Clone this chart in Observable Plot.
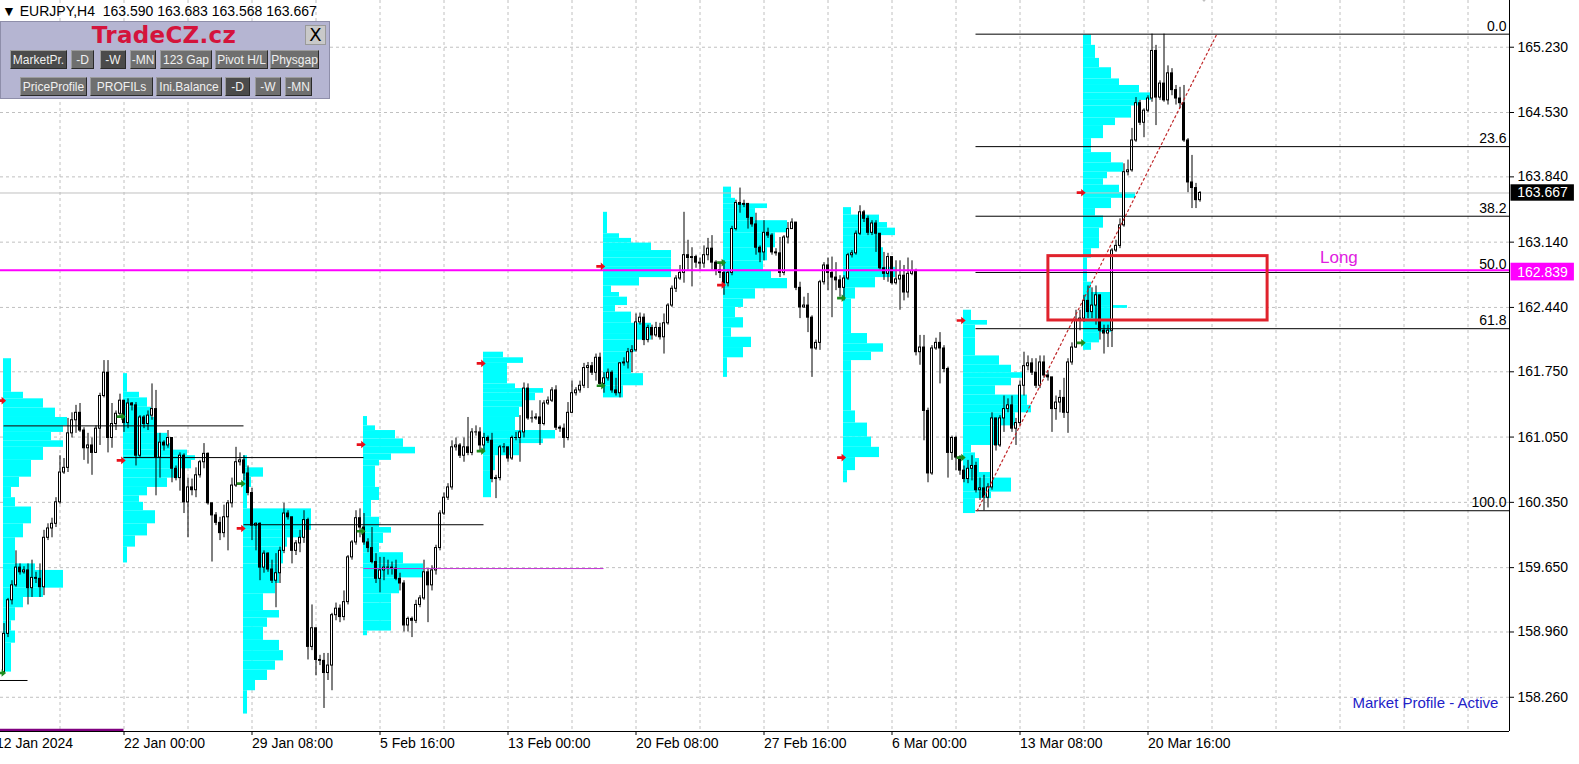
<!DOCTYPE html>
<html><head><meta charset="utf-8">
<script src="https://cdn.jsdelivr.net/npm/d3@7"></script>
<script src="https://cdn.jsdelivr.net/npm/@observablehq/plot@0.6"></script>
<style>
body{margin:0;background:#fff;}
#wrap{position:relative;width:1579px;height:764px;overflow:hidden;font-family:"Liberation Sans",Arial,sans-serif;}
#hdr{position:absolute;left:2px;top:3px;font-size:14px;white-space:pre;color:#000;}
#panel{position:absolute;left:0;top:21px;width:330px;height:78px;background:#b5b5d2;border:1px solid #8e8eaa;box-sizing:border-box;}
#brand{position:absolute;left:0;width:326px;top:0px;text-align:center;font:bold 23px "DejaVu Sans",sans-serif;color:#d4143c;letter-spacing:0.3px;}
#xbox{position:absolute;left:304px;top:3px;width:19px;height:18px;background:#c9c9c9;border:1px solid #9a9a9a;font:18px "DejaVu Sans",sans-serif;line-height:18px;text-align:center;color:#000;}
.btn{position:absolute;height:19px;line-height:18px;background:#6f6f6f;color:#f0f0f0;font-size:12px;text-align:center;box-sizing:border-box;border-top:1px solid #9c9c9c;border-left:1px solid #9c9c9c;border-right:1px solid #2a2a2a;border-bottom:1px solid #2a2a2a;white-space:nowrap;overflow:visible;}
.btn.sel{background:#4b4b4b;}
</style>
</head><body>
<div id="wrap">
  <div id="chart"></div>
  <div id="hdr"></div>
  <div id="panel"><div id="brand"></div><div id="xbox">X</div></div>
</div>
<script>
// ---------- data ----------
const symbolName = "EURJPY,H4";
const firstOpen = 158.53;
const close = [
158.94,159.30,159.46,159.65,159.60,159.62,159.43,159.54,159.53,159.44,
159.97,160.07,160.12,160.35,160.67,160.72,161.09,161.23,161.31,161.12,
160.93,160.96,160.88,161.14,161.49,161.74,161.04,161.19,161.30,161.44,
161.20,161.41,161.39,160.85,161.26,161.19,161.28,161.35,160.83,160.99,
160.96,161.04,160.71,160.61,160.85,160.35,160.51,160.48,160.64,160.78,
160.87,160.34,160.21,160.13,160.02,160.19,160.34,160.53,160.78,160.80,
160.66,160.45,160.10,160.12,159.65,159.80,159.63,159.51,159.59,159.83,
160.23,160.19,159.83,159.91,159.97,160.16,158.80,159.00,158.66,158.65,
158.52,158.60,159.14,159.21,159.12,159.28,159.76,159.92,160.18,160.08,
159.92,159.86,159.71,159.53,159.62,159.65,159.65,159.64,159.53,159.48,
159.03,159.10,159.08,159.25,159.32,159.60,159.46,159.62,159.86,160.23,
160.40,160.51,160.94,160.96,160.85,160.94,160.88,161.10,161.10,160.96,
161.04,161.01,160.60,160.61,160.94,160.94,160.82,161.04,161.04,161.10,
161.57,161.25,161.25,161.26,161.19,161.41,161.44,161.55,161.15,161.14,
161.04,161.31,161.52,161.55,161.60,161.79,161.81,161.74,161.90,161.62,
161.68,161.74,161.55,161.52,161.84,161.85,161.96,161.98,162.28,162.33,
162.09,162.22,162.14,162.22,162.12,162.27,162.46,162.64,162.75,162.81,
163.00,162.97,162.98,162.92,162.91,163.00,163.07,162.92,162.84,162.81,
162.70,162.81,163.28,163.56,163.54,163.55,163.40,163.33,163.08,163.03,
163.24,163.21,163.03,163.02,162.81,163.19,163.28,163.35,162.65,162.44,
162.46,162.33,162.00,162.06,162.71,162.89,162.81,162.76,162.73,162.65,
162.75,163.00,163.02,163.23,163.46,163.39,163.24,163.34,163.23,162.86,
162.80,162.98,162.70,162.74,162.78,162.60,162.80,162.83,161.96,162.01,
161.33,160.66,162.00,162.06,162.00,161.78,160.88,161.04,160.83,160.69,
160.60,160.71,160.74,160.48,160.50,160.40,160.51,161.25,160.96,161.25,
161.35,161.39,161.14,161.20,161.60,161.81,161.84,161.74,161.60,161.85,
161.71,161.69,161.35,161.42,161.47,161.31,161.85,162.01,162.30,162.32,
162.51,162.39,162.46,162.57,162.19,162.16,162.19,163.05,163.10,163.32,
163.89,163.91,164.23,164.63,164.42,164.55,164.68,165.19,164.69,164.84,
164.66,164.95,164.77,164.68,164.63,164.23,163.78,163.72,163.590,163.667];
const high = [
159.05,159.32,159.51,159.83,159.69,159.66,159.69,159.73,159.60,159.69,
160.05,160.12,160.18,160.40,160.85,160.82,161.25,161.31,161.39,161.41,
161.15,161.09,161.04,161.17,161.52,161.87,161.87,161.41,161.33,161.51,
161.35,161.46,161.42,161.42,161.28,161.28,161.33,161.62,161.55,161.09,
161.01,161.12,160.94,160.74,160.88,160.87,160.61,160.60,160.72,160.80,
160.98,160.88,160.34,160.24,160.19,160.32,160.37,160.61,160.94,160.88,
160.85,160.74,160.50,160.13,160.13,159.83,159.81,159.73,159.80,159.87,
160.34,160.26,160.16,159.94,160.05,160.26,160.18,159.25,158.96,158.71,
158.73,158.73,159.16,159.27,159.25,159.40,159.78,159.94,160.26,160.28,
160.23,159.96,160.08,159.80,159.76,159.76,159.73,159.71,159.73,159.59,
159.51,159.12,159.12,159.30,159.35,159.73,159.64,159.67,159.89,160.26,
160.45,160.55,161.01,161.04,160.98,161.04,161.26,161.14,161.17,161.15,
161.09,161.06,161.09,160.64,160.96,160.98,160.91,161.06,161.10,161.28,
161.63,161.62,161.33,161.30,161.44,161.44,161.48,161.58,161.60,161.17,
161.19,161.42,161.65,161.58,161.65,161.84,161.85,161.85,161.94,161.95,
161.74,161.78,161.76,161.68,161.85,161.90,162.00,162.03,162.37,162.38,
162.37,162.25,162.25,162.28,162.27,162.37,162.48,162.67,162.78,162.89,
163.46,163.16,163.08,163.00,162.97,163.10,163.18,163.21,162.94,162.92,
162.94,162.84,163.31,163.59,163.72,163.59,163.53,163.39,163.45,163.10,
163.37,163.29,163.23,163.07,163.19,163.21,163.35,163.39,163.32,162.71,
162.55,162.59,162.35,162.09,162.73,162.92,162.97,162.98,162.92,162.78,
162.78,163.02,163.05,163.26,163.53,163.48,163.42,163.37,163.37,163.23,
163.03,163.02,162.94,162.94,162.94,162.89,162.97,162.94,162.85,162.14,
162.14,161.36,162.03,162.11,162.17,162.03,161.80,161.06,161.06,160.85,
160.74,160.80,160.85,160.78,160.61,160.64,160.55,161.31,161.25,161.28,
161.49,161.46,161.49,161.25,161.65,161.96,161.92,161.89,161.89,161.92,
161.92,161.76,161.63,161.49,161.55,161.68,161.89,162.06,162.41,162.41,
162.57,162.67,162.65,162.67,162.57,162.25,162.25,163.07,163.16,163.39,
163.98,164.02,164.36,164.69,164.66,164.57,164.71,165.37,165.25,164.87,
165.37,165.03,165.00,164.82,164.80,164.82,164.25,164.07,163.77,163.683];
const low = [
158.52,158.90,159.25,159.44,159.57,159.58,159.25,159.33,159.48,159.33,
159.35,159.94,159.97,160.08,160.33,160.65,160.67,161.04,161.09,161.10,
160.80,160.76,160.64,160.90,160.96,161.47,160.88,160.93,161.12,161.26,
161.10,161.14,161.33,160.74,160.83,161.14,161.12,161.23,160.42,160.61,
160.90,160.93,160.56,160.58,160.47,160.23,159.97,160.42,160.40,160.61,
160.71,160.32,159.71,160.10,159.94,159.97,159.83,160.29,160.51,160.74,
160.58,160.42,159.94,159.83,159.51,159.59,159.60,159.48,159.22,159.48,
159.80,160.16,159.69,159.78,159.81,159.91,158.66,158.76,158.49,158.60,
158.14,158.44,158.33,159.08,159.06,159.08,159.25,159.73,159.89,159.97,
159.89,159.81,159.69,159.48,159.38,159.51,159.57,159.57,159.51,159.40,
158.96,158.96,158.90,159.05,159.22,159.30,159.06,159.40,159.57,159.83,
160.21,160.37,160.48,160.90,160.82,160.78,160.85,160.85,161.06,160.90,
160.90,160.98,160.56,160.39,160.58,160.88,160.78,160.80,161.01,160.78,
161.04,161.23,161.20,161.23,160.96,161.17,161.39,161.42,161.12,161.10,
160.93,161.01,161.30,161.49,161.52,161.57,161.57,161.71,161.65,161.60,
161.52,161.65,161.52,161.49,161.47,161.81,161.78,161.74,161.96,162.25,
162.03,162.06,162.09,162.12,162.09,161.94,162.25,162.44,162.60,162.73,
162.70,162.84,162.66,162.86,162.84,162.86,162.94,162.84,162.78,162.75,
162.57,162.66,162.78,163.26,163.45,163.51,163.28,163.30,163.00,162.92,
162.94,163.18,163.00,162.99,162.76,162.78,163.12,163.32,162.62,162.32,
162.43,162.17,161.69,161.98,161.98,162.68,162.62,162.33,162.62,162.55,
162.51,162.73,162.97,163.00,163.21,163.35,163.21,163.21,163.03,162.84,
162.73,162.71,162.68,162.68,162.41,162.51,162.54,162.78,161.92,161.82,
161.01,160.56,160.64,161.98,161.62,161.74,160.61,160.80,160.69,160.64,
160.56,160.55,160.58,160.45,160.37,160.26,160.29,160.48,160.90,160.94,
161.10,161.31,161.10,160.96,161.17,161.49,161.76,161.71,161.57,161.57,
161.68,161.65,161.10,161.23,161.31,161.25,161.09,161.82,162.00,162.19,
162.28,162.32,162.32,162.25,162.09,161.94,162.01,162.01,163.03,163.07,
163.30,163.85,163.89,164.21,164.39,164.26,164.53,164.64,164.39,164.66,
164.64,164.61,164.71,164.61,164.57,164.21,163.67,163.50,163.50,163.568];

// weekly market profiles: [level price, TPO count] ... last entry = bottom price
const profileStarts = [0, 30, 60, 90, 120, 150, 180, 210, 240, 270];
const profileA = [[161.89,2],[161.53,5],[161.46,10],[161.36,13],[161.26,16],[161.17,15],[161.10,12],[161.01,15],[160.94,10],[160.80,7],[160.62,4],[160.51,2],[160.40,3],[160.30,7],[160.12,5],[159.97,3],[159.69,8],[159.62,15],[159.43,10],[159.33,5],[159.22,3],[159.08,2],[158.97,3],[158.84,2],[158.53,0]];
const profileB = [[161.73,1],[161.53,4],[161.47,6],[161.37,7],[161.26,8],[161.09,11],[160.98,12],[160.91,16],[160.85,18],[160.80,17],[160.71,14],[160.61,11],[160.51,6],[160.42,4],[160.35,5],[160.26,8],[160.12,6],[159.99,3],[159.87,1],[159.70,0]];
const profileC = [[160.85,1],[160.72,5],[160.62,2],[160.51,1],[160.28,17],[160.05,15],[159.97,11],[159.87,10],[159.69,9],[159.48,8],[159.37,5],[159.19,9],[159.11,6],[159.01,5],[158.87,9],[158.76,10],[158.65,8],[158.55,6],[158.44,3],[158.33,1],[158.08,0]];
const profileD = [[161.27,1],[161.17,3],[161.12,8],[161.03,10],[160.94,13],[160.87,7],[160.80,4],[160.74,3],[160.51,4],[160.37,2],[160.19,4],[160.08,7],[160.02,5],[159.91,4],[159.81,10],[159.69,15],[159.54,9],[159.48,9],[159.37,7],[159.27,7],[159.08,7],[158.97,1],[158.92,0]];
const profileE = [[161.96,5],[161.90,10],[161.84,6],[161.62,8],[161.57,15],[161.52,13],[161.44,10],[161.37,9],[161.26,8],[161.12,18],[161.03,15],[160.98,9],[160.85,3],[160.69,2],[160.40,0]];
const profileF = [[163.46,1],[163.23,4],[163.18,7],[163.13,12],[163.05,17],[162.97,17],[162.87,17],[162.76,9],[162.67,2],[162.60,4],[162.55,6],[162.46,3],[162.39,7],[162.27,12],[162.16,12],[162.09,8],[161.96,7],[161.84,7],[161.73,10],[161.60,5],[161.47,0]];
const profileG = [[163.73,2],[163.61,3],[163.55,11],[163.50,8],[163.37,16],[163.24,13],[163.08,11],[162.94,10],[162.83,12],[162.75,16],[162.64,8],[162.53,5],[162.44,3],[162.33,5],[162.22,2],[162.12,7],[162.01,5],[161.90,1],[161.69,0]];
const profileH = [[163.51,2],[163.43,9],[163.35,11],[163.29,13],[163.21,9],[163.08,10],[162.87,13],[162.76,8],[162.65,3],[162.53,2],[162.16,6],[162.05,10],[161.96,7],[161.87,2],[161.76,2],[161.33,3],[161.20,6],[161.05,7],[160.94,9],[160.83,3],[160.69,1],[160.56,0]];
const profileI = [[162.41,2],[162.30,6],[162.25,3],[162.11,3],[161.92,9],[161.82,12],[161.74,15],[161.68,12],[161.60,8],[161.50,16],[161.39,17],[161.31,13],[161.17,9],[160.96,2],[160.88,3],[160.82,4],[160.67,7],[160.61,12],[160.46,7],[160.39,3],[160.23,0]];
const profileJ = [[165.36,2],[165.25,3],[165.11,4],[165.01,7],[164.89,9],[164.82,14],[164.74,17],[164.66,14],[164.60,12],[164.47,8],[164.39,5],[164.25,2],[164.14,2],[164.10,7],[163.99,10],[163.89,6],[163.82,5],[163.75,9],[163.67,13],[163.61,7],[163.50,3],[163.42,5],[163.29,4],[163.18,4],[163.07,2],[162.97,1],[162.71,2],[162.60,7],[162.46,11],[162.43,7],[162.32,7],[162.17,4],[162.06,2],[161.98,0]];

// point-of-control lines
const pocPrice = [158.44, 161.17, 160.83, 160.11];
const pocFrom  = [-1, 0, 30, 60];
const pocTo    = [6, 60, 90, 120];
const nakedPocPrice = 159.64, nakedPocFrom = 90, nakedPocTo = 150;
const oldPocPrice = 157.91, oldPocFrom = -1, oldPocTo = 30;

// week open / close markers [bar, price]
const markerRed   = [[-0.6,161.44],[29.3,160.80],[59.3,160.07],[89.3,160.97],[119.3,161.84],[149.2,162.88],[179.4,162.68],[209.4,160.83],[239.3,162.30],[269.3,163.67]];
const markerGreen = [[-0.6,158.52],[29.3,161.27],[59.3,160.55],[89.3,160.04],[119.3,160.90],[149.3,161.60],[179.4,162.92],[209.4,162.54],[239.3,160.83],[269.3,162.06]];

// Fibonacci retracement
const fibHigh = 165.37, fibLow = 160.26, fibStartBar = 243, fibEndBar = 303.2;
const fibRatios = [0, 23.6, 38.2, 50, 61.8, 100];

// levels
const longLevel = 162.839;
const bidPrice = 163.667;
const zoneTop = 162.99, zoneBottom = 162.30, zoneFrom = 261.1, zoneTo = 315.9;

// axes
const priceTicks = [165.230,164.530,163.840,163.140,162.440,161.750,161.050,160.350,159.650,158.960,158.260];
const dateTickBars = [-2, 30, 62, 94, 126, 158, 190, 222, 254, 286];
const dateLabels = ["12 Jan 2024","22 Jan 00:00","29 Jan 08:00","5 Feb 16:00","13 Feb 00:00","20 Feb 08:00","27 Feb 16:00","6 Mar 00:00","13 Mar 08:00","20 Mar 16:00"];

// panel
const brandText = "TradeCZ.cz";
const panelRow1 = ["MarketPr.","-D","-W","-MN","123 Gap","Pivot H/L","Physgap"];
const panelRow2 = ["PriceProfile","PROFILs","Ini.Balance","-D","-W","-MN"];

// ---------- build ----------
const candles = close.map((c, i) => {
  const o = i ? close[i - 1] : firstOpen;
  return {i, open: o, close: c, high: Math.max(high[i], o, c), low: Math.min(low[i], o, c)};
});
const bull = candles.filter(d => d.close > d.open);

const profileSets = [profileA, profileB, profileC, profileD, profileE, profileF, profileG, profileH, profileI, profileJ];
const profileRects = profileSets.flatMap((rows, p) =>
  rows.slice(0, -1).map((r, k) => ({start: profileStarts[p], hi: r[0], lo: rows[k + 1][0], count: r[1]})));

const pocLines = pocPrice.map((p, k) => ({price: p, from: pocFrom[k], to: pocTo[k]}));
const fibLevels = fibRatios.map(r => ({label: r.toFixed(1), price: fibHigh - (fibHigh - fibLow) * r / 100}));
const labelByBar = new Map(dateTickBars.map((b, k) => [b, dateLabels[k]]));
const gridBars = d3.range(-2, 377, 16);

const xMin = -0.875, xMax = 376.375, yMin = 157.893, yMax = 165.731;

const arrowSymbol = {draw(ctx, size) {
  const r = Math.sqrt(size / Math.PI);
  ctx.moveTo(-r, -r * 0.3); ctx.lineTo(0, -r * 0.3); ctx.lineTo(0, -r * 0.85);
  ctx.lineTo(r, 0); ctx.lineTo(0, r * 0.85); ctx.lineTo(0, r * 0.3); ctx.lineTo(-r, r * 0.3); ctx.closePath();
}};
const downTri = {draw(ctx, size) {
  const r = Math.sqrt(size / Math.PI);
  ctx.moveTo(-r, -r); ctx.lineTo(r, -r); ctx.lineTo(0, r * 0.2); ctx.closePath();
}};

const F = '"Liberation Sans", Arial, sans-serif';

const chart = Plot.plot({
  width: 1579, height: 764,
  marginLeft: 0, marginRight: 70, marginTop: 0, marginBottom: 33,
  style: {fontFamily: F, fontSize: "14px", background: "white", color: "black"},
  x: {domain: [xMin, xMax]},
  y: {domain: [yMin, yMax]},
  marks: [
    Plot.gridY(priceTicks, {stroke: "#c0c0c0", strokeOpacity: 1, strokeDasharray: "3,3"}),
    Plot.gridX(gridBars, {stroke: "#c0c0c0", strokeOpacity: 1, strokeDasharray: "3,3"}),
    // market profiles
    Plot.rect(profileRects, {x1: d => d.start - 0.125, x2: d => d.start - 0.125 + d.count, y1: "lo", y2: "hi", fill: "#00ffff"}),
    // bid line
    Plot.ruleY([bidPrice], {stroke: "#c0c0c0", x1: xMin, x2: xMax}),
    // candles
    Plot.ruleX(candles, {x: "i", y1: "low", y2: "high", stroke: "black", strokeWidth: 1}),
    Plot.rect(candles, {x1: d => d.i - 0.375, x2: d => d.i + 0.375, y1: "open", y2: "close", fill: "black", insetTop: -0.5, insetBottom: -0.5}),
    Plot.rect(bull, {x1: d => d.i - 0.375, x2: d => d.i + 0.375, y1: "open", y2: "close", fill: "white", insetLeft: 1, insetRight: 1, insetTop: 0.5, insetBottom: 0.5}),
    // POC lines
    Plot.ruleY(pocLines, {y: "price", x1: "from", x2: "to", stroke: "black"}),
    Plot.ruleY([nakedPocPrice], {x1: nakedPocFrom, x2: nakedPocTo, stroke: "#c030d0"}),
    Plot.ruleY([oldPocPrice], {x1: oldPocFrom, x2: oldPocTo, stroke: "#800080", strokeWidth: 2.5}),
    // fibonacci
    Plot.ruleY(fibLevels, {y: "price", x1: fibStartBar, x2: xMax, stroke: "black"}),
    Plot.line([[fibStartBar + 0.3, fibLow], [fibEndBar, fibHigh]], {x: d => d[0], y: d => d[1], stroke: "#c0282a", strokeDasharray: "2,3", strokeWidth: 1.2}),
    Plot.text(fibLevels, {x: xMax, y: "price", text: "label", textAnchor: "end", dx: -3, dy: -8, fontSize: 14, fill: "black"}),
    // long level
    Plot.ruleY([longLevel], {x1: xMin, x2: xMax, stroke: "#ff00ff", strokeWidth: 2}),
    Plot.rect([{x1: zoneFrom, x2: zoneTo, y1: zoneBottom, y2: zoneTop}], {x1: "x1", x2: "x2", y1: "y1", y2: "y2", fill: "none", stroke: "#e0222c", strokeWidth: 3}),
    Plot.text(["Long"], {x: 329, y: 162.98, text: d => d, fill: "#e020e0", fontSize: 17, textAnchor: "start"}),
    // markers
    Plot.dot(markerRed, {x: d => d[0], y: d => d[1], symbol: arrowSymbol, r: 4.5, fill: "#e8101a", stroke: "none"}),
    Plot.dot(markerGreen, {x: d => d[0], y: d => d[1], symbol: arrowSymbol, r: 4.5, fill: "#1e8c1e", stroke: "none"}),
    // chart shift marker
    Plot.dot([0], {x: 300, y: yMax, symbol: downTri, r: 8, fill: "#c0c0c0", stroke: "none"}),
    // axes
    Plot.ruleX([xMax], {stroke: "black"}),
    Plot.ruleY([yMin], {x1: xMin, x2: xMax, stroke: "black"}),
    Plot.axisY(priceTicks, {anchor: "right", tickSize: 4, tickPadding: 4, tickFormat: d => d.toFixed(3), label: null, fontSize: 14}),
    Plot.axisX(dateTickBars, {anchor: "bottom", tickSize: 4, tickPadding: 3, tickFormat: d => labelByBar.get(d), textAnchor: "start", label: null, fontSize: 14}),
    // price tags on the axis
    Plot.rect([bidPrice], {x1: 376.75, x2: 392.6, y1: d => d - 0.088, y2: d => d + 0.088, fill: "black"}),
    Plot.text([bidPrice], {x: 378.3, y: d => d, text: d => d.toFixed(3), fill: "white", textAnchor: "start", fontSize: 14}),
    Plot.rect([longLevel], {x1: 376.75, x2: 392.6, y1: d => d - 0.115, y2: d => d + 0.075, fill: "#ff00ff"}),
    Plot.text([longLevel], {x: 378.3, y: d => d - 0.02, text: d => d.toFixed(3), fill: "white", textAnchor: "start", fontSize: 14}),
    // status
    Plot.text(["Market Profile - Active"], {x: 373.6, y: 158.20, text: d => d, fill: "#2222c8", fontSize: 15, textAnchor: "end"})
  ]
});
document.getElementById("chart").appendChild(chart);

// header
const last = candles[candles.length - 1];
document.getElementById("hdr").textContent =
  "\u25BC " + symbolName + "  " + [last.open, last.high, last.low, last.close].map(v => v.toFixed(3)).join(" ");

// panel
document.getElementById("brand").textContent = brandText;
const panel = document.getElementById("panel");
const row1Layout = [[9, 57, true], [70, 23, false], [99, 26, true], [129, 26, false], [159, 52, false], [214, 53, false], [269, 49, false]];
const row2Layout = [[19, 67, false], [89, 63, false], [155, 66, false], [224, 25, true], [254, 26, false], [284, 27, false]];
function addButtons(labels, layout, top) {
  labels.forEach((t, k) => {
    const b = document.createElement("div");
    b.className = "btn" + (layout[k][2] ? " sel" : "");
    b.textContent = t;
    b.style.left = layout[k][0] + "px";
    b.style.width = layout[k][1] + "px";
    b.style.top = top + "px";
    panel.appendChild(b);
  });
}
addButtons(panelRow1, row1Layout, 28);
addButtons(panelRow2, row2Layout, 55);
</script>
</body></html>
